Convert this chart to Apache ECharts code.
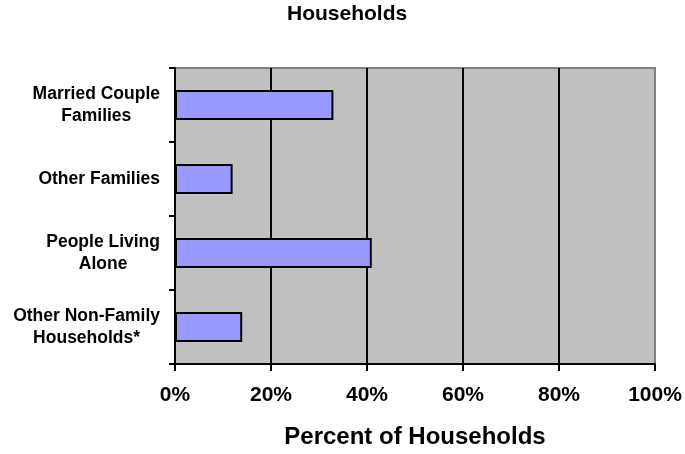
<!DOCTYPE html>
<html>
<head>
<meta charset="utf-8">
<style>
  html, body { margin: 0; padding: 0; background: #fff; }
  #chart { width: 685px; height: 454px; }
</style>
<script src="https://cdn.jsdelivr.net/npm/echarts@6/dist/echarts.min.js"></script>
</head>
<body>
<div id="chart"></div>
<script>
const categories = ['Married Couple\nFamilies', 'Other Families', 'People Living\nAlone', 'Other Non-Family\nHouseholds*'];
const percents = [33, 12, 41, 14];
const tickMax = 100;
const tickStep = 20;

const font = '"Liberation Sans", Arial, sans-serif';
const chart = echarts.init(document.getElementById('chart'));

const option = {
    animation: false,
    title: {
        text: 'Households',
        left: 287,
        top: 4,
        padding: 0,
        textStyle: { fontFamily: font, fontSize: 21, fontWeight: 'bold', color: '#000' }
    },
    grid: {
        left: 175,
        right: 30,
        top: 68,
        bottom: 88,
        show: true,
        backgroundColor: '#c0c0c0',
        borderColor: '#808080',
        borderWidth: 2
    },
    xAxis: {
        type: 'value',
        min: 0,
        max: tickMax,
        interval: tickStep,
        name: 'Percent of Households',
        nameLocation: 'middle',
        nameGap: 61,
        nameTextStyle: { fontFamily: font, fontSize: 24, fontWeight: 'bold', color: '#000' },
        axisLine: { show: true, lineStyle: { color: '#000', width: 2 } },
        axisTick: { show: true, length: 7, lineStyle: { color: '#000', width: 2 } },
        axisLabel: {
            formatter: '{value}%',
            margin: 21,
            fontFamily: font,
            fontSize: 21,
            fontWeight: 'bold',
            color: '#000'
        },
        splitLine: { show: true, showMaxLine: false, lineStyle: { color: '#000', width: 2 } }
    },
    yAxis: {
        type: 'category',
        data: categories,
        inverse: true,
        axisLine: { show: true, lineStyle: { color: '#000', width: 2 } },
        axisTick: { show: true, length: 6, lineStyle: { color: '#000', width: 2 } },
        axisLabel: {
            margin: 15,
            formatter: function (v) {
                return v.split('\n').map(function (s) { return '{c|' + s + '}'; }).join('\n');
            },
            rich: {
                c: {
                    align: 'center',
                    fontFamily: font,
                    fontSize: 17.5,
                    fontWeight: 'bold',
                    color: '#000',
                    lineHeight: 22
                }
            }
        },
        splitLine: { show: false }
    },
    series: [
        {
            type: 'bar',
            data: percents,
            barWidth: 30,
            itemStyle: { color: '#9999ff', borderColor: '#000', borderWidth: 2 }
        }
    ]
};

chart.setOption(option);
</script>
</body>
</html>
